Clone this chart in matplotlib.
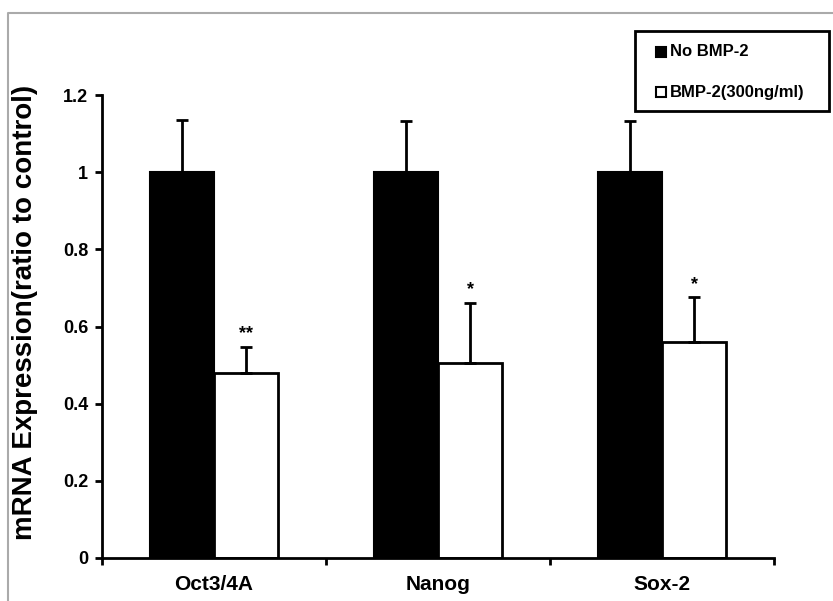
import numpy as np
import matplotlib.pyplot as plt
from matplotlib.patches import Rectangle
from matplotlib.lines import Line2D

plt.rcParams['font.family'] = ['Liberation Sans', 'DejaVu Sans']
plt.rcParams['font.weight'] = 'bold'

# values
genes = ['Oct3/4A', 'Nanog', 'Sox-2']
no_bmp = [1.0, 1.0, 1.0]
no_bmp_err = [0.135, 0.133, 0.133]
bmp = [0.48, 0.505, 0.56]
bmp_err = [0.068, 0.157, 0.117]
stars = ['**', '*', '*']
series_names = ['No BMP-2', 'BMP-2(300ng/ml)']
yticks = [0, 0.2, 0.4, 0.6, 0.8, 1, 1.2]
ytick_labels = ['0', '0.2', '0.4', '0.6', '0.8', '1', '1.2']

W, H = 833, 601
fig = plt.figure(figsize=(W/100, H/100), dpi=100)
ax = fig.add_axes([102/W, 1-558/H, 672/W, 463/H])

x = np.arange(len(genes))
w = 0.286
ax.bar(x - w/2, no_bmp, w, color='black', edgecolor='black', linewidth=1.5, zorder=2)
ax.bar(x + w/2, bmp, w, color='white', edgecolor='black', linewidth=2, zorder=2)

zero = np.zeros(len(genes))
ax.errorbar(x - w/2, no_bmp, yerr=[zero, no_bmp_err], fmt='none', ecolor='black',
            elinewidth=2, capsize=4, capthick=2, zorder=3)
ax.errorbar(x + w/2, bmp, yerr=[zero, bmp_err], fmt='none', ecolor='black',
            elinewidth=2, capsize=4, capthick=2, zorder=3)

for i in range(len(genes)):
    ax.annotate(stars[i], (x[i] + w/2, bmp[i] + bmp_err[i]), xytext=(0, 9),
                textcoords='offset points', ha='center', va='center',
                fontsize=13, fontweight='bold')

ax.set_xlim(-0.5, len(genes) - 0.5)
ax.set_ylim(0, 1.2)
ax.set_yticks(yticks)
ax.set_yticklabels(ytick_labels)
ax.set_xticks(np.arange(len(genes) + 1) - 0.5)
ax.set_xticklabels([])
ax.set_xticks(x, minor=True)
ax.set_xticklabels(genes, minor=True)

for s in ['top', 'right']:
    ax.spines[s].set_visible(False)
for s in ['left', 'bottom']:
    ax.spines[s].set_linewidth(2)

ax.tick_params(axis='y', length=5, width=2, pad=5, labelsize=13)
ax.tick_params(axis='x', which='major', length=5, width=2)
ax.tick_params(axis='x', which='minor', length=0, pad=12, labelsize=15)

ax.set_ylabel('mRNA Expression(ratio to control)', fontsize=20, fontweight='bold')
ax.yaxis.set_label_coords(-0.095, 0.53)

# legend box drawn by hand, in figure pixels
def fx(px):
    return px / W

def fy(py):
    return 1 - py / H

fig.add_artist(Rectangle((fx(635), fy(111)), fx(829) - fx(635), fy(31) - fy(111),
                         transform=fig.transFigure, facecolor='white',
                         edgecolor='black', linewidth=2))
for k, (name, fc) in enumerate(zip(series_names, ['black', 'white'])):
    yc = 52 + k * 40
    fig.add_artist(Rectangle((fx(656), fy(yc + 5)), fx(10), 10/H,
                             transform=fig.transFigure, facecolor=fc,
                             edgecolor='black', linewidth=1.5))
    fig.text(fx(670), fy(yc), name, fontsize=12, fontweight='bold',
             ha='left', va='center')

fig.add_artist(Line2D([fx(8), fx(8), 1], [0, fy(13), fy(13)],
                      transform=fig.transFigure, color='#aaaaaa', lw=1.5))

fig.savefig('out.png', dpi=100)
